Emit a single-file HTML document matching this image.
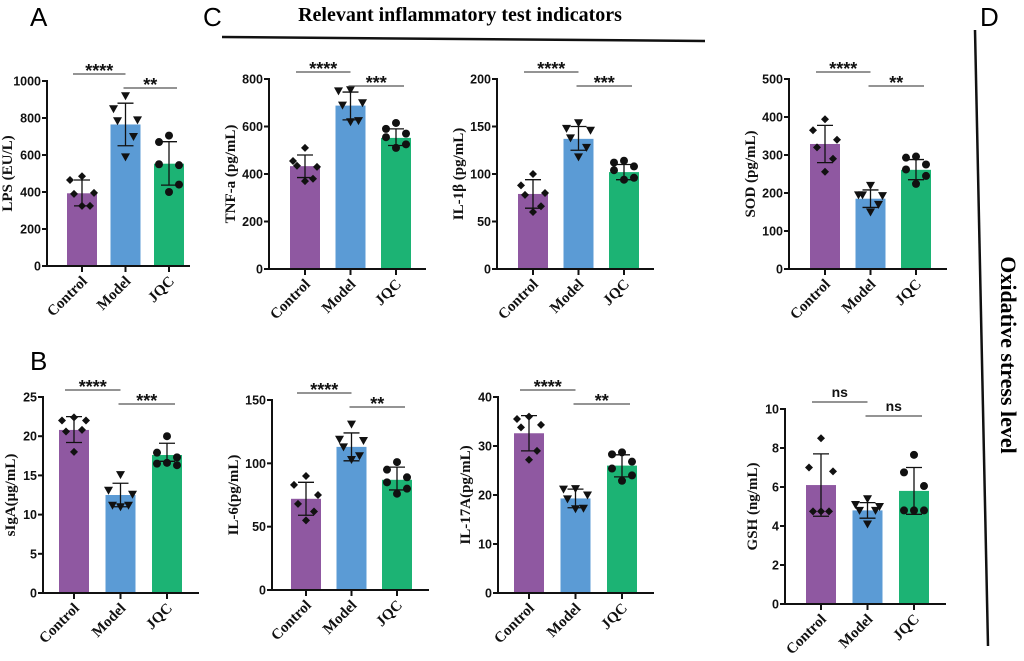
<!DOCTYPE html>
<html><head><meta charset="utf-8"><style>
html,body{margin:0;padding:0;background:#fff;}
svg{display:block;}
.tk{font:bold 12.5px "Liberation Sans",sans-serif;fill:#111;}
.xl{font:bold 15px "Liberation Serif",serif;fill:#111;}
.yt{font:bold 15px "Liberation Serif",serif;fill:#111;}
.st{font:bold 18px "Liberation Sans",sans-serif;fill:#111;}
.ns{font:bold 14px "Liberation Sans",sans-serif;fill:#111;}
</style></head><body>
<svg id="fig" width="1024" height="661" viewBox="0 0 1024 661" xmlns="http://www.w3.org/2000/svg">
<text x="30" y="26" font-family="Liberation Sans" font-size="26">A</text>
<text x="203" y="26" font-family="Liberation Sans" font-size="26">C</text>
<text x="30" y="370" font-family="Liberation Sans" font-size="26">B</text>
<text x="980" y="26" font-family="Liberation Sans" font-size="26">D</text>
<text x="460" y="21" text-anchor="middle" font-family="Liberation Serif" font-weight="bold" font-size="20">Relevant inflammatory test indicators</text>
<line x1="222" y1="37" x2="705" y2="41" stroke="#111" stroke-width="2.5"/>
<line x1="975" y1="30" x2="988" y2="646" stroke="#111" stroke-width="2.5"/>
<text transform="translate(1001,355) rotate(90)" text-anchor="middle" font-family="Liberation Serif" font-weight="bold" font-size="22">Oxidative stress level</text>
<g id="charts"></g>
</svg>
<script>
const categories = ["Control","Model","JQC"];
const lpsMeans = [393,765,553];
const lpsErr = [[325,465],[650,880],[437,672]];
const lpsPts = [[485,465,395,390,325,325],[920,850,790,785,700,590],[705,670,545,550,440,400]];
const tnfMeans = [433,688,552];
const tnfErr = [[385,480],[628,745],[520,590]];
const tnfPts = [[510,455,430,435,380,370],[755,750,700,690,625,620],[615,590,570,555,525,510]];
const il1Means = [79,137,102];
const il1Err = [[64,94],[125,150],[94,110]];
const il1Pts = [[100,88,80,78,66,60],[154,148,146,138,128,118],[114,112,108,104,96,94]];
const sodMeans = [329,185,261];
const sodErr = [[280,378],[162,208],[235,288]];
const sodPts = [[394,365,340,320,290,256],[220,195,193,195,170,150],[296,293,275,262,245,224]];
const igaMeans = [20.8,12.5,17.6];
const igaErr = [[19.2,22.5],[11,14],[16.8,19.1]];
const igaPts = [[22.4,22.0,22.0,20.6,20.8,18],[15.1,13.1,12.6,11.2,11.2,11.0],[20,17.9,17.3,16.5,16.3,16.6]];
const il6Means = [72,113,87];
const il6Err = [[59,85],[102,124],[79,97]];
const il6Pts = [[90,83,75,68,62,55],[131,119,118,113,106,103],[101,95,89,85,80,76]];
const il17Means = [32.6,19.3,26];
const il17Err = [[29,36.2],[17.4,21.2],[23.7,28.2]];
const il17Pts = [[36,35.5,34.3,33.8,29,27.2],[21.3,21.2,20,19.2,17.3,17.2],[28.7,28.3,26.8,25.4,24,22.9]];
const gshMeans = [6.1,4.8,5.8];
const gshErr = [[4.5,7.7],[4.4,5.2],[4.6,7.0]];
const gshPts = [[8.5,7.0,6.8,4.75,4.75,4.75],[5.4,5.1,5.0,4.8,4.8,4.1],[7.65,6.75,6.05,4.8,4.8,4.8]];
const lpsTicks = [0,200,400,600,800,1000];
const tnfTicks = [0,200,400,600,800];
const il1Ticks = [0,50,100,150,200];
const sodTicks = [0,100,200,300,400,500];
const igaTicks = [0,5,10,15,20,25];
const il6Ticks = [0,50,100,150];
const il17Ticks = [0,10,20,30,40];
const gshTicks = [0,2,4,6,8,10];
const sigLabels = {lps:["****","**"],tnf:["****","***"],il1:["****","***"],sod:["****","**"],iga:["****","***"],il6:["****","**"],il17:["****","**"],gsh:["ns","ns"]};

const colors = ["#8f58a1","#5b9bd5","#1cb374"];
const jit = [[0,-12,12,-8,8,0],[0,-12,12,-8,8,0],[0,-10,10,-10,10,0]];
const NS="http://www.w3.org/2000/svg";
const root=document.getElementById('charts');
function mk(tag,attrs,parent){const e=document.createElementNS(NS,tag);for(const k in attrs)e.setAttribute(k,attrs[k]);(parent||root).appendChild(e);return e;}

const panels=[
 {id:'lps',title:'LPS (EU/L)',ax:47,top:81,bot:266,pitch:43.5,off:35,len:143,means:lpsMeans,err:lpsErr,pts:lpsPts,ticks:lpsTicks},
 {id:'tnf',title:'TNF-a (pg/mL)',ax:269,top:79,bot:269,pitch:45.5,off:36,len:157,means:tnfMeans,err:tnfErr,pts:tnfPts,ticks:tnfTicks},
 {id:'il1',title:'IL-1β (pg/mL)',ax:497,top:79,bot:269,pitch:45.5,off:36,len:157,means:il1Means,err:il1Err,pts:il1Pts,ticks:il1Ticks},
 {id:'sod',title:'SOD (pg/mL)',ax:789,top:79,bot:269,pitch:45.5,off:36,len:158,means:sodMeans,err:sodErr,pts:sodPts,ticks:sodTicks},
 {id:'iga',title:'sIgA(μg/mL)',ax:43,top:397,bot:593,pitch:46.5,off:31,len:156,means:igaMeans,err:igaErr,pts:igaPts,ticks:igaTicks},
 {id:'il6',title:'IL-6(pg/mL)',ax:272,top:400,bot:590,pitch:45.5,off:34,len:157,means:il6Means,err:il6Err,pts:il6Pts,ticks:il6Ticks},
 {id:'il17',title:'IL-17A(pg/mL)',ax:498,top:397,bot:593,pitch:46.5,off:31,len:156,means:il17Means,err:il17Err,pts:il17Pts,ticks:il17Ticks},
 {id:'gsh',title:'GSH (ng/mL)',ax:785,top:409,bot:604,pitch:46.5,off:36,len:161,means:gshMeans,err:gshErr,pts:gshPts,ticks:gshTicks}
];

panels.forEach(p=>{
 const g=mk('g',{});
 
 
 const maxV=p.ticks[p.ticks.length-1];
 const y=v=>p.bot-(v/maxV)*(p.bot-p.top);
 const x=i=>p.ax+p.off+i*p.pitch;
 p.means.forEach((m,i)=>{
  const r=mk('rect',{x:x(i)-15,y:y(m),width:30,height:p.bot-y(m),fill:colors[i]},g);
  
  
 });
 const ya=mk('line',{x1:p.ax,y1:p.top-1,x2:p.ax,y2:p.bot+1,stroke:'#111','stroke-width':2},g);
 
 
 const xa=mk('line',{x1:p.ax-1,y1:p.bot,x2:p.ax+p.len,y2:p.bot,stroke:'#111','stroke-width':2},g);
 
 
 p.ticks.forEach(t=>{
  mk('line',{x1:p.ax-5,y1:y(t),x2:p.ax,y2:y(t),stroke:'#111','stroke-width':2},g);
  const tl=mk('text',{x:p.ax-6,y:y(t)+4.5,'text-anchor':'end',class:'tk'},g);
  tl.textContent=t;
  
  
 });
 const titleOff = Math.max(...p.ticks).toString().length>=4 ? 35 : (Math.max(...p.ticks).toString().length===3 ? 34 : 28);
 const yt=mk('text',{transform:`translate(${p.ax-titleOff},${(p.top+p.bot)/2}) rotate(-90)`,'text-anchor':'middle',class:'yt'},g);
 yt.textContent=p.title;
 
 
 categories.forEach((c,i)=>{
  mk('line',{x1:x(i),y1:p.bot,x2:x(i),y2:p.bot+6,stroke:'#111','stroke-width':2},g);
  const xl=mk('text',{transform:`translate(${x(i)+6},${p.bot+16}) rotate(-45)`,'text-anchor':'end',class:'xl'},g);
  xl.textContent=c;
  
  
 });
 p.err.forEach((e,i)=>{
  const cx=x(i);
  const eb=mk('path',{d:`M${cx},${y(e[0])}V${y(e[1])}M${cx-8},${y(e[0])}H${cx+8}M${cx-8},${y(e[1])}H${cx+8}`,stroke:'#111','stroke-width':1.3,fill:'none'},g);
  
  
 });
 p.pts.forEach((arr,i)=>{
  arr.forEach((v,j)=>{
   const px=x(i)+jit[i][j], py=y(v);
   let el;
   if(i===0) el=mk('path',{d:`M${px},${py-4}L${px+4},${py}L${px},${py+4}L${px-4},${py}Z`,fill:'#111'},g);
   else if(i===1) el=mk('path',{d:`M${px-4.5},${py-3.5}H${px+4.5}L${px},${py+4.5}Z`,fill:'#111'},g);
   else el=mk('circle',{cx:px,cy:py,r:4,fill:'#111'},g);
   
   
  });
 });
 const s=sigLabels[p.id];
 const l1y=p.top-7, l2y=p.top+7;
 mk('line',{x1:x(0)-9,y1:l1y,x2:x(1),y2:l1y,stroke:'#555','stroke-width':1.3},g);
 mk('line',{x1:x(1)-2,y1:l2y,x2:x(2)+8,y2:l2y,stroke:'#555','stroke-width':1.3},g);
 const isNs=s[0]==='ns';
 const t1=mk('text',{x:(x(0)-9+x(1))/2,y:l1y-(isNs?5:-3),'text-anchor':'middle',class:isNs?'ns':'st'},g);
 t1.textContent=s[0];
 
 
 const t2=mk('text',{x:(x(1)-2+x(2)+8)/2,y:l2y-(isNs?5:-3),'text-anchor':'middle',class:isNs?'ns':'st'},g);
 t2.textContent=s[1];
 
 
});
</script>
</body></html>
